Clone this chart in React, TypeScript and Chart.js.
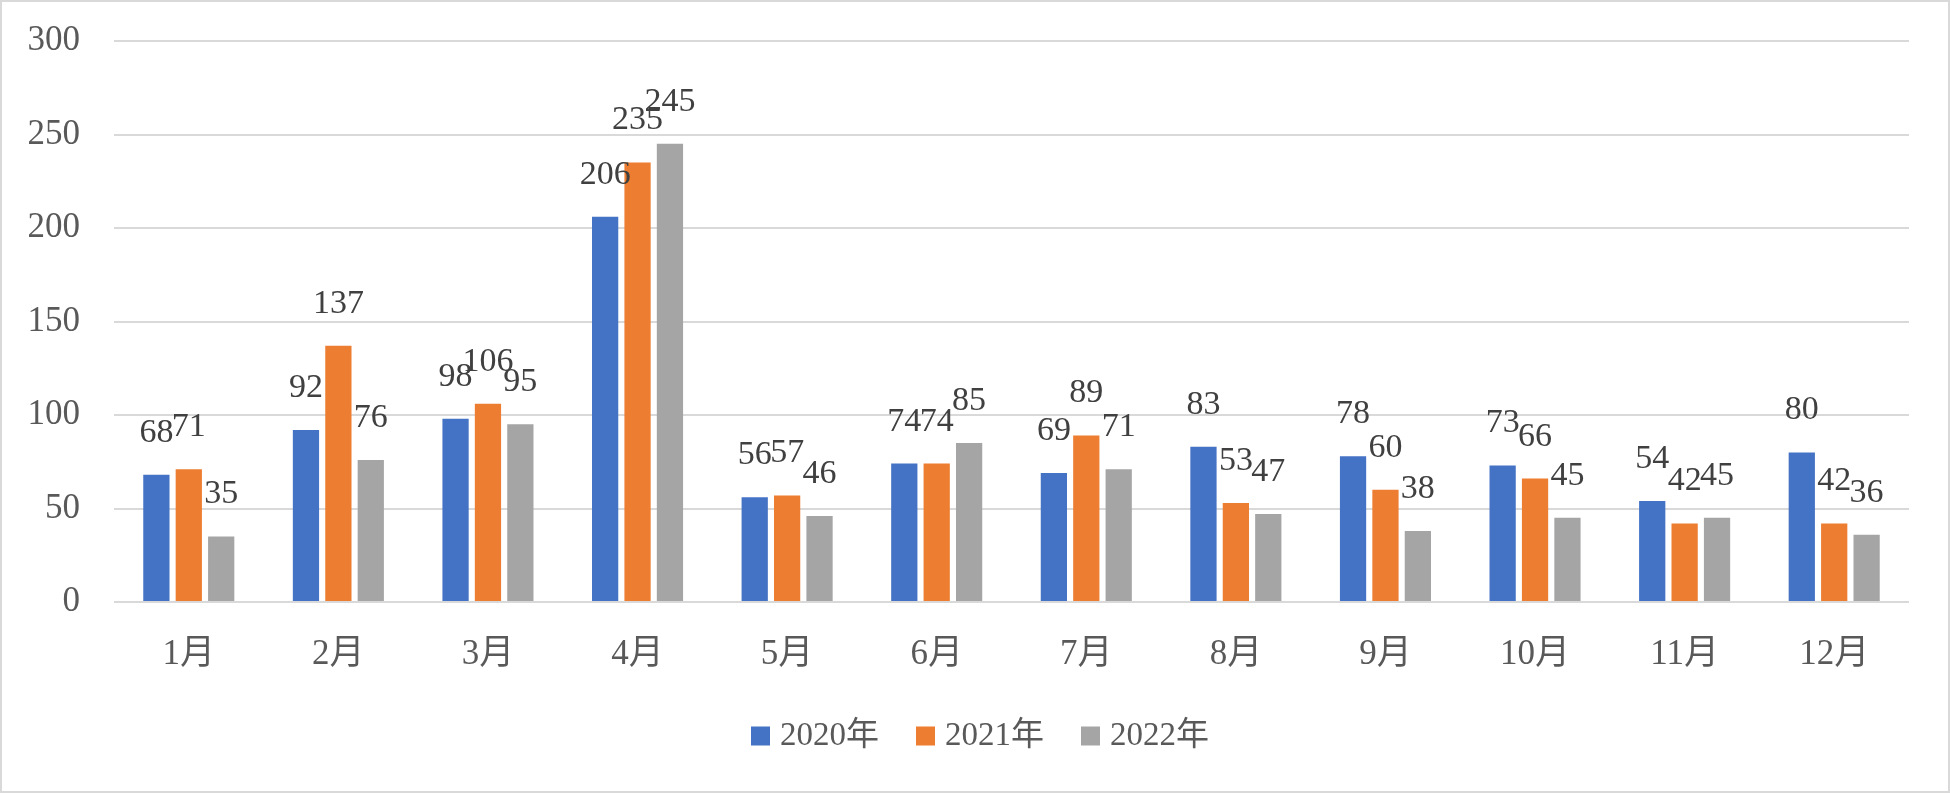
import { useEffect, useRef } from "react";
import { Chart, registerables } from "chart.js";

Chart.register(...registerables);

const months = ["1月", "2月", "3月", "4月", "5月", "6月", "7月", "8月", "9月", "10月", "11月", "12月"];
const series2020 = [68, 92, 98, 206, 56, 74, 69, 83, 78, 73, 54, 80];
const series2021 = [71, 137, 106, 235, 57, 74, 89, 53, 60, 66, 42, 42];
const series2022 = [35, 76, 95, 245, 46, 85, 71, 47, 38, 45, 45, 36];
const seriesNames = ["2020年", "2021年", "2022年"];
const seriesColors = ["#4472C4", "#ED7D31", "#A5A5A5"];

const FONT = '"Liberation Serif", "DejaVu Serif", "Noto Sans CJK JP", serif';

// draws the value above every bar (floating a little above, like the Excel original)
const valueLabels = {
  id: "valueLabels",
  afterDatasetsDraw(chart: Chart) {
    const { ctx } = chart;
    ctx.save();
    ctx.font = `34px ${FONT}`;
    ctx.fillStyle = "#404040";
    ctx.textAlign = "center";
    ctx.textBaseline = "middle";
    chart.data.datasets.forEach((ds, i) => {
      const meta = chart.getDatasetMeta(i);
      meta.data.forEach((bar: any, j) => {
        ctx.fillText(String(ds.data[j]), bar.x, bar.y - 42);
      });
    });
    ctx.restore();
  },
};

// Excel-like legend under the axis: small square, short gap, label
const bottomLegend = {
  id: "bottomLegend",
  afterDraw(chart: Chart) {
    const { ctx } = chart;
    const box = 19;
    const gap = 10;
    const itemGap = 37;
    const centerX = 978;
    const centerY = 734;
    ctx.save();
    ctx.font = `33px ${FONT}`;
    ctx.textBaseline = "middle";
    ctx.textAlign = "left";
    const items = chart.data.datasets.map((ds) => ({
      text: String(ds.label),
      color: String(ds.backgroundColor),
      w: ctx.measureText(String(ds.label)).width,
    }));
    const total =
      items.reduce((s, it) => s + box + gap + it.w, 0) + itemGap * (items.length - 1);
    let x = centerX - total / 2;
    items.forEach((it) => {
      ctx.fillStyle = it.color;
      ctx.fillRect(x, centerY - box / 2, box, box);
      ctx.fillStyle = "#595959";
      ctx.fillText(it.text, x + box + gap, centerY);
      x += box + gap + it.w + itemGap;
    });
    ctx.restore();
  },
};

export default function App() {
  const chartRef = useRef<HTMLCanvasElement>(null);
  const chartInstance = useRef<Chart | null>(null);

  useEffect(() => {
    document.body.style.margin = "0";
    if (!chartRef.current) return;
    const ctx = chartRef.current.getContext("2d");
    if (!ctx) return;

    if (chartInstance.current) {
      chartInstance.current.destroy();
    }

    const values = [series2020, series2021, series2022];

    chartInstance.current = new Chart(ctx, {
      type: "bar",
      data: {
        labels: months,
        datasets: values.map((data, i) => ({
          label: seriesNames[i],
          data,
          backgroundColor: seriesColors[i],
          borderWidth: 0,
          categoryPercentage: 0.65,
          barPercentage: 0.81,
        })),
      },
      options: {
        responsive: false,
        animation: false,
        devicePixelRatio: 1,
        layout: {
          padding: { top: 39, right: 39, bottom: 100, left: 0 },
        },
        plugins: {
          legend: { display: false },
          tooltip: { enabled: false },
        },
        scales: {
          y: {
            min: 0,
            max: 300,
            ticks: {
              stepSize: 50,
              padding: 18,
              color: "#595959",
              font: { family: FONT, size: 35 },
            },
            grid: {
              color: "#d9d9d9",
              lineWidth: 2,
              drawTicks: true,
              tickLength: 16,
              tickColor: "rgba(0,0,0,0)",
            },
            border: { display: false },
            afterFit: (scale: any) => {
              scale.width = 112;
            },
          },
          x: {
            ticks: {
              padding: 32,
              color: "#595959",
              font: { family: FONT, size: 35 },
            },
            grid: { display: false, drawTicks: false },
            border: { display: false },
            afterFit: (scale: any) => {
              scale.height = 89;
            },
          },
        },
      },
      plugins: [valueLabels, bottomLegend],
    });

    return () => {
      if (chartInstance.current) {
        chartInstance.current.destroy();
        chartInstance.current = null;
      }
    };
  }, []);

  return (
    <div
      style={{
        width: 1950,
        height: 793,
        boxSizing: "border-box",
        border: "2px solid #d9d9d9",
        background: "#ffffff",
      }}
    >
      <canvas ref={chartRef} width={1946} height={789} />
    </div>
  );
}
